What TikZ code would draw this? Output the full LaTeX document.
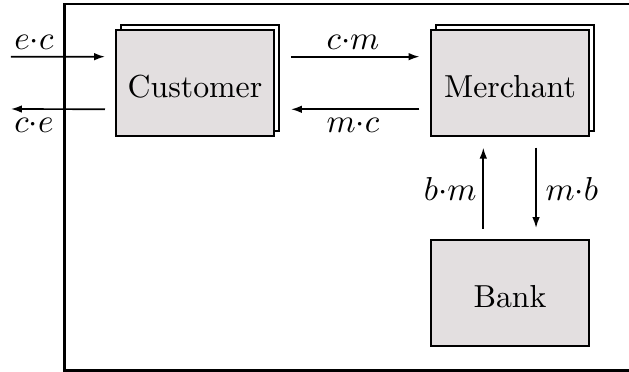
\documentclass[tikz,border=0pt]{standalone}
\usepackage{amsmath}
\usepackage{tikz}
\usetikzlibrary{arrows.meta}

\definecolor{boxgray}{RGB}{227,223,224}

\begin{document}
\begin{tikzpicture}[x=0.33pt,y=0.33pt,
    every node/.style={font=\fontsize{10.5}{12.5}\selectfont},
    party/.style={rectangle,draw=black,line width=0.7pt,fill=boxgray,
        minimum width=52.1pt,minimum height=35pt,inner sep=0pt,text height=9.6pt},
    copybox/.style={party,fill=white},
    msg/.style={line width=0.55pt,-{Latex[length=3.6pt,width=2.5pt]}}]
    \useasboundingbox (0,0) rectangle (629,372);

    % The frame round the system
    \draw[line width=0.7pt] (640,368) -- (64.5,368) -- (64.5,1.5) -- (640,1.5);

    % Place the parties
    \node[copybox] (cc) at (200,294) {};
    \node[party] (c) at (195,289) {Customer};
    \node[copybox] (mm) at (515,294) {};
    \node[party] (m) at (510,289) {Merchant};
    \node[party] (b) at (510,79) {Bank};

    % Outer ends of the customer's messages
    \coordinate (in) at (11,315.3);
    \coordinate (out) at (11,263);

    % The labels
    \node[anchor=base] (ec) at (34,322) {$e{\cdot}c$};
    \node[anchor=base] (ce) at (34,239) {$c{\cdot}e$};
    \node[anchor=base] (cm) at (353,322) {$c{\cdot}m$};
    \node[anchor=base] (mc) at (353,239) {$m{\cdot}c$};
    \node[anchor=base east,inner sep=0pt] (bm) at (477,171) {$b{\cdot}m$};
    \node[anchor=base west,inner sep=0pt] (mb) at (545,171) {$m{\cdot}b$};

    % The messages!
    \draw[msg,shorten >=3.3pt] (in) -- ([yshift=8.68pt]c.west);
    \draw[msg,shorten <=3.3pt] ([yshift=-8.68pt]c.west) -- (out);
    \draw[msg,shorten <=5.28pt,shorten >=3.47pt] ([yshift=8.68pt]c.east) -- ([yshift=8.68pt]m.west);
    \draw[msg,shorten <=3.47pt,shorten >=5.28pt] ([yshift=-8.68pt]m.west) -- ([yshift=-8.68pt]c.east);
    \draw[msg,shorten <=3.3pt,shorten >=3.5pt] ([xshift=-8.8pt]b.north) -- ([xshift=-8.8pt]m.south);
    \draw[msg,shorten <=3.5pt,shorten >=3.6pt] ([xshift=8.6pt]m.south) -- ([xshift=8.6pt]b.north);
\end{tikzpicture}
\end{document}
